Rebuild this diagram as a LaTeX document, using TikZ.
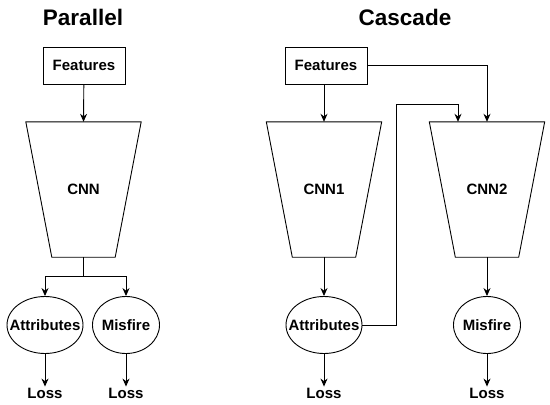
\documentclass[tikz,border=0pt]{standalone}
\usepackage{fontspec}
\setmainfont{Liberation Sans}
\usepackage{tikz}
\usetikzlibrary{shapes.geometric,arrows.meta}

\begin{document}
\begin{tikzpicture}[
    x=1pt, y=-1pt,
    title/.style={font=\fontsize{22.5}{27}\selectfont\bfseries},
    lbl/.style={font=\fontsize{15}{18}\selectfont\bfseries, inner sep=1pt},
    box/.style={draw, line width=0.9pt, minimum width=82pt, minimum height=37pt, lbl},
    cnnbox/.style={minimum width=115pt, minimum height=135pt, lbl},
    head/.style={draw, ellipse, line width=0.9pt, minimum width=#1, minimum height=57pt, inner sep=0pt},
    arr/.style={-{Stealth[length=8pt,width=7pt]}, line width=0.9pt},
    ln/.style={line width=0.9pt}
]
\useasboundingbox (0,0) rectangle (550,405);

% Parallel
\node[title] (partitle) at (83,17) {Parallel};
\node[box] (featA) at (84,65.5) {Features};
\node[cnnbox] (cnn) at (83.5,189.5) {CNN};
\node[head=76pt, label={[lbl]center:Attributes}] (attrA) at (45,325) {};
\node[head=67pt, label={[lbl]center:Misfire}] (misA) at (126,325) {};
\node[lbl] (lossA1) at (45,393) {Loss};
\node[lbl] (lossA2) at (126,393) {Loss};
\coordinate (split) at (83.5,276);

\draw[arr] (featA) -- (cnn.north);
\draw[ln] (cnn.south) -- (split);
\draw[arr] (split) -| (attrA.north);
\draw[arr] (split) -| (misA.north);
\draw[arr] (attrA) -- (lossA1);
\draw[arr] (misA) -- (lossA2);

% Cascade
\node[title] (castitle) at (405,17) {Cascade};
\node[box] (featB) at (326,65.5) {Features};
\node[cnnbox] (cnn1) at (324,189.5) {CNN1};
\node[cnnbox] (cnn2) at (487,189.5) {CNN2};
\node[head=76pt, label={[lbl]center:Attributes}] (attrB) at (324,325) {};
\node[head=67pt, label={[lbl]center:Misfire}] (misB) at (487,325) {};
\node[lbl] (lossB1) at (324,393) {Loss};
\node[lbl] (lossB2) at (487,393) {Loss};
\coordinate (hop) at (396,104);

\draw[arr] (featB.south -| cnn1.north) -- (cnn1.north);
\draw[arr] (featB.east) -| (cnn2.north);
\draw[arr] (attrB.east) -| (hop) -| ([xshift=-29pt]cnn2.north);
\draw[arr] (cnn1.south) -- (attrB);
\draw[arr] (cnn2.south) -- (misB);
\draw[arr] (attrB) -- (lossB1);
\draw[arr] (misB) -- (lossB2);

% trapezoid outlines of the CNN blocks
\foreach \n in {cnn,cnn1,cnn2}
  \draw[ln] (\n.north west) -- (\n.north east) -- ([xshift=-26pt]\n.south east)
    -- ([xshift=26pt]\n.south west) -- cycle;
\end{tikzpicture}
\end{document}
